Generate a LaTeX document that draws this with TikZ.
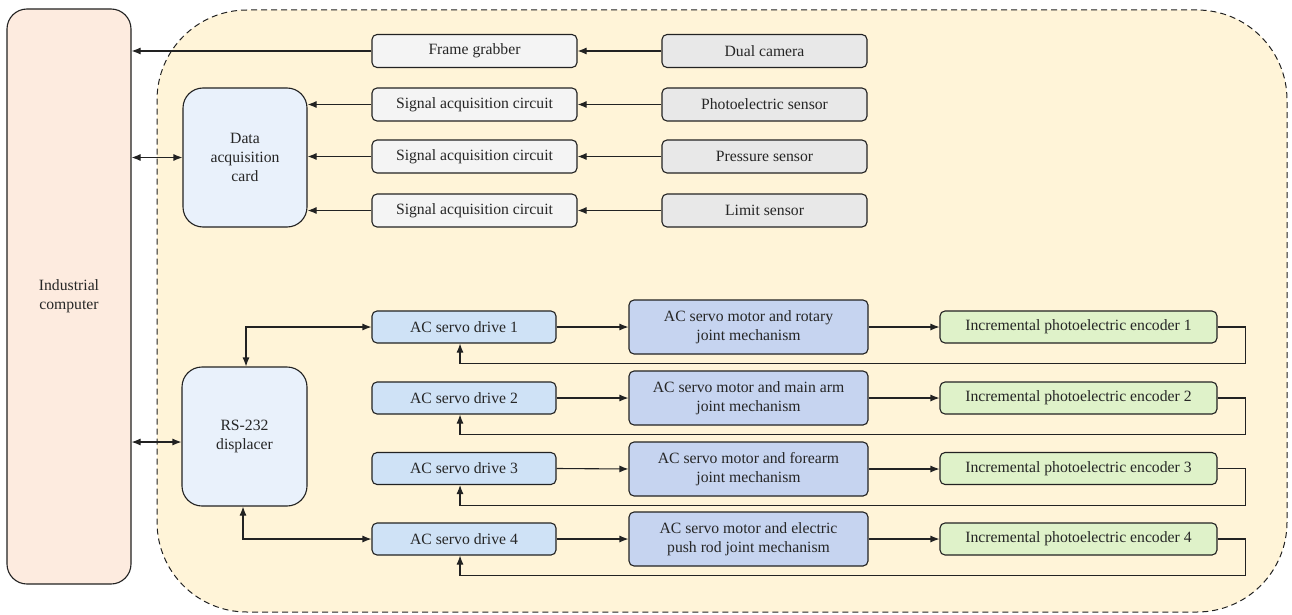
\documentclass[tikz,border=0pt]{standalone}
\usepackage{fontspec}
\setmainfont{Liberation Serif}
\usetikzlibrary{arrows.meta,calc}
\definecolor{linec}{HTML}{222222}
\definecolor{icfill}{HTML}{FDEBDF}
\definecolor{contfill}{HTML}{FFF4D8}
\definecolor{bigfill}{HTML}{E9F1FB}
\definecolor{circfill}{HTML}{F4F4F4}
\definecolor{sensfill}{HTML}{E8E8E8}
\definecolor{drvfill}{HTML}{CFE2F6}
\definecolor{motfill}{HTML}{C6D4F0}
\definecolor{encfill}{HTML}{DFF2C9}
\begin{document}
\begin{tikzpicture}[x=1pt,y=-1pt,
  box/.style={draw=linec, line width=1.1pt, rounded corners=5pt, align=center, inner sep=0pt,
    text=black!85, font=\fontsize{15.7}{19}\selectfont},
  bigbox/.style={box, rounded corners=20pt},
  circbox/.style={box, fill=circfill, minimum width=205pt, minimum height=33pt},
  sensbox/.style={box, fill=sensfill, minimum width=205pt, minimum height=33pt},
  drvbox/.style={box, fill=drvfill, minimum width=184pt, minimum height=32pt},
  motbox/.style={box, fill=motfill, minimum width=239pt, minimum height=54pt},
  encbox/.style={box, fill=encfill, minimum width=277pt, minimum height=32pt},
  arr/.style={draw=linec, line width=1.1pt, -{Latex[length=9pt,width=7pt]}},
  biarr/.style={draw=linec, line width=1.1pt, {Latex[length=9pt,width=7pt]}-{Latex[length=9pt,width=7pt]}}
]
\useasboundingbox (0,0) rectangle (1292,615);
% container
\node[draw=linec, line width=1pt, dash pattern=on 6pt off 4pt, fill=contfill, rounded corners=90pt,
  minimum width=1130pt, minimum height=602pt, inner sep=0pt] (cont) at (722,311) {};
% industrial computer
\node[bigbox, fill=icfill, minimum width=124pt, minimum height=575pt] (ic) at (69,296.5) {Industrial\\computer};
% top section
\node[circbox] (fg) at (474.5,51) {Frame grabber};
\node[sensbox] (dc) at (764.5,51) {Dual camera};
\node[circbox] (sc1) at (474.5,104.5) {Signal acquisition circuit};
\node[circbox] (sc2) at (474.5,156.5) {Signal acquisition circuit};
\node[circbox] (sc3) at (474.5,210.5) {Signal acquisition circuit};
\node[sensbox] (ps) at (764.5,104.5) {Photoelectric sensor};
\node[sensbox] (pr) at (764.5,156.5) {Pressure sensor};
\node[sensbox] (ls) at (764.5,210.5) {Limit sensor};
\node[bigbox, fill=bigfill, minimum width=124pt, minimum height=139pt] (daq) at (245,157.5) {Data\\acquisition\\card};
% lower section
\node[bigbox, fill=bigfill, minimum width=125pt, minimum height=139pt] (rs) at (244.5,436.5) {RS-232\\displacer};
\node[drvbox] (d1) at (464,327) {AC servo drive 1};
\node[drvbox] (d2) at (464,398) {AC servo drive 2};
\node[drvbox] (d3) at (464,468.5) {AC servo drive 3};
\node[drvbox] (d4) at (464,539) {AC servo drive 4};
\node[motbox] (m1) at (748.5,327) {AC servo motor and rotary\\joint mechanism};
\node[motbox] (m2) at (748.5,398) {AC servo motor and main arm\\joint mechanism};
\node[motbox] (m3) at (748.5,469) {AC servo motor and forearm\\joint mechanism};
\node[motbox] (m4) at (748.5,539) {AC servo motor and electric\\push rod joint mechanism};
\node[encbox] (e1) at (1078.5,327) {Incremental photoelectric encoder 1};
\node[encbox] (e2) at (1078.5,398) {Incremental photoelectric encoder 2};
\node[encbox] (e3) at (1078.5,468.5) {Incremental photoelectric encoder 3};
\node[encbox] (e4) at (1078.5,539) {Incremental photoelectric encoder 4};
% connectors top
\draw[arr] (fg.west) -- (fg.west -| ic.east);
\draw[arr] (dc.west) -- (fg.east);
\draw[arr] (ps.west) -- (sc1.east);
\draw[arr] (pr.west) -- (sc2.east);
\draw[arr] (ls.west) -- (sc3.east);
\draw[arr] (sc1.west) -- (sc1.west -| daq.east);
\draw[arr] (sc2.west) -- (sc2.west -| daq.east);
\draw[arr] (sc3.west) -- (sc3.west -| daq.east);
\draw[biarr] (ic.east |- daq.west) -- (daq.west);
% connectors bottom
\coordinate (rsin) at ($(rs.west)+(0,5.5)$);
\draw[biarr] (ic.east |- rsin) -- (rsin);
\draw[biarr] ($(rs.north)+(1.5,0)$) |- (d1.west);
\draw[biarr] ($(rs.south)+(-1.5,0)$) |- (d4.west);
\foreach \i in {1,2,3,4}{
  \draw[arr] (d\i.east) -- (m\i.west);
  \draw[arr] (m\i.east) -- (m\i.east -| e\i.west);
  \draw[arr] (e\i.east) -- ++(28,0) |- ($(d\i.south)+(-4,20)$) -- ($(d\i.south)+(-4,0)$);
}
\end{tikzpicture}
\end{document}
